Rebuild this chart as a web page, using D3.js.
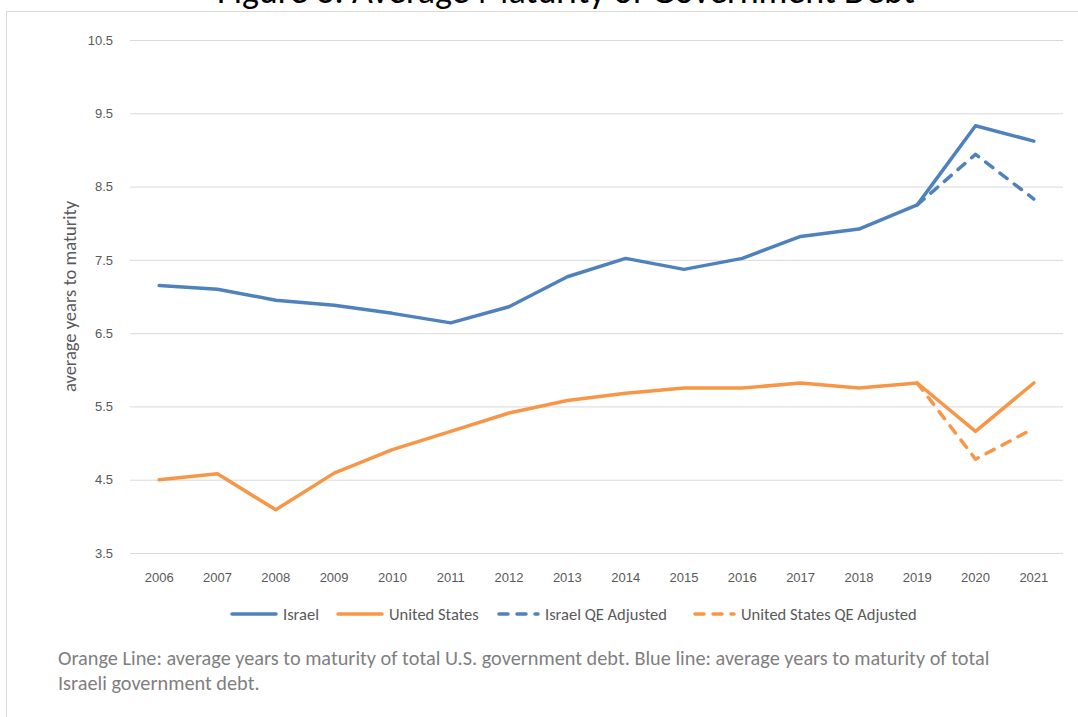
<!DOCTYPE html>
<html>
<head>
<meta charset="utf-8">
<script src="https://cdn.jsdelivr.net/npm/d3@7"></script>
<style>
  html, body { margin: 0; padding: 0; background: #fff; }
  svg { display: block; font-family: Carlito, Calibri, Lato, sans-serif; }
</style>
</head>
<body>
<svg id="chart" width="1078" height="717"></svg>
<script>
// Average years to maturity of government debt, 2006-2021
const years = ["2006","2007","2008","2009","2010","2011","2012","2013","2014","2015","2016","2017","2018","2019","2020","2021"];
const israel = [7.15, 7.10, 6.95, 6.88, 6.77, 6.64, 6.86, 7.27, 7.52, 7.37, 7.52, 7.82, 7.92, 8.25, 9.33, 9.12];
const unitedStates = [4.50, 4.58, 4.09, 4.59, 4.91, 5.16, 5.41, 5.58, 5.68, 5.75, 5.75, 5.82, 5.75, 5.82, 5.16, 5.82];
// QE-adjusted series exist from 2019 onward
const qeYears = ["2019","2020","2021"];
const israelQE = [8.25, 8.94, 8.33];
const unitedStatesQE = [5.82, 4.78, 5.20];
const yTicks = [3.5, 4.5, 5.5, 6.5, 7.5, 8.5, 9.5, 10.5];

const titleText = "Figure 3: Average Maturity of Government Debt";
const yAxisTitle = "average years to maturity";
const noteLines = [
  "Orange Line: average years to maturity of total U.S. government debt. Blue line: average years to maturity of total",
  "Israeli government debt."
];

const BLUE = "#4f81bd", ORANGE = "#f79646", GRID = "#d9d9d9", TEXT = "#595959";

const svg = d3.select("#chart");

// outer chart frame
svg.append("rect")
  .attr("x", 6.5).attr("y", 11.5)
  .attr("width", 1200).attr("height", 800)
  .attr("fill", "none").attr("stroke", GRID).attr("stroke-width", 1);

// title (sits above the frame, clipped by the page top)
svg.append("text")
  .attr("x", 566).attr("y", 3)
  .attr("text-anchor", "middle")
  .attr("font-size", 36)
  .attr("fill", "#000")
  .text(titleText);

const plot = { left: 130, right: 1063, top: 40, bottom: 553 };

const x = d3.scaleBand().domain(years).range([plot.left, plot.right]);
const cx = d => x(d) + x.bandwidth() / 2;
const y = d3.scaleLinear().domain([3.5, 10.5]).range([plot.bottom, plot.top]);

// gridlines + y labels
const yAxis = d3.axisLeft(y).tickValues(yTicks).tickSize(-(plot.right - plot.left)).tickPadding(17)
  .tickFormat(d3.format(".1f"));
const gy = svg.append("g").attr("transform", `translate(${plot.left},0)`).call(yAxis);
gy.select(".domain").remove();
gy.selectAll(".tick line").attr("stroke", GRID).attr("stroke-width", 1);
gy.selectAll(".tick text").attr("fill", TEXT).attr("font-size", 13).attr("font-family", null);

// x labels
const xAxis = d3.axisBottom(x).tickSize(0).tickPadding(20);
const gx = svg.append("g").attr("transform", `translate(0,${plot.bottom})`).call(xAxis);
gx.select(".domain").remove();
gx.selectAll(".tick text").attr("fill", TEXT).attr("font-size", 13).attr("font-family", null);

// y axis title
svg.append("text")
  .attr("transform", `translate(76,${(plot.top + plot.bottom) / 2}) rotate(-90)`)
  .attr("text-anchor", "middle")
  .attr("font-size", 18.5)
  .attr("fill", TEXT)
  .text(yAxisTitle);

const line = d3.line().x(d => cx(d[0])).y(d => y(d[1]));
const zip = (a, b) => a.map((v, i) => [v, b[i]]);

const series = [
  { name: "Israel", cats: years, vals: israel, color: BLUE, dash: null },
  { name: "United States", cats: years, vals: unitedStates, color: ORANGE, dash: null },
  { name: "Israel QE Adjusted", cats: qeYears, vals: israelQE, color: BLUE, dash: "9,9" },
  { name: "United States QE Adjusted", cats: qeYears, vals: unitedStatesQE, color: ORANGE, dash: "9,9" }
];

svg.append("g").selectAll("path").data(series).join("path")
  .attr("d", s => line(zip(s.cats, s.vals)))
  .attr("fill", "none")
  .attr("stroke", s => s.color)
  .attr("stroke-width", 3.5)
  .attr("stroke-linejoin", "round")
  .attr("stroke-linecap", "round")
  .attr("stroke-dasharray", s => s.dash);

// legend
const legendX = [230, 336, 492, 688];
const legY = 614;
const leg = svg.append("g").selectAll("g").data(series).join("g")
  .attr("transform", (s, i) => `translate(${legendX[i]},${legY})`);
leg.append("line")
  .attr("x1", s => s.dash ? 7 : 2).attr("x2", 46)
  .attr("stroke", s => s.color).attr("stroke-width", 3.5)
  .attr("stroke-linecap", "round")
  .attr("stroke-dasharray", s => s.dash ? "9,9" : null);
leg.append("text")
  .attr("x", 53).attr("dy", "0.35em")
  .attr("font-size", 16.5).attr("fill", TEXT)
  .text(s => s.name);

// footnote
svg.append("g").selectAll("text").data(noteLines).join("text")
  .attr("x", 58).attr("y", (d, i) => 665 + i * 25)
  .attr("font-size", 20.3).attr("fill", "#7f7f7f")
  .text(d => d);
</script>
</body>
</html>
